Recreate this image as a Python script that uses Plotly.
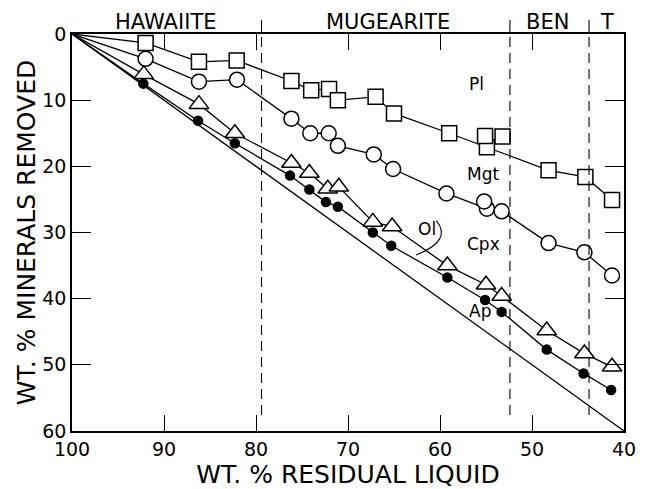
import plotly.graph_objects as go

# Data (x = wt.% residual liquid, y = wt.% minerals removed)
pl_x = [100, 92.0, 86.2, 82.1, 76.15, 74.0, 72.06, 71.1, 67.0, 65.0, 59.0, 54.9, 48.2, 44.2, 41.3]
pl_y = [0, 1.35, 4.2, 4.0, 7.1, 8.5, 8.3, 10.0, 9.5, 12.0, 15.0, 17.1, 20.6, 21.6, 25.1]
pl_extra_x = [55.1, 53.2]
pl_extra_y = [15.4, 15.5]

mgt_x = [100, 92.0, 86.2, 82.07, 76.15, 74.1, 72.1, 71.1, 67.2, 65.1, 59.3, 54.9, 53.3, 48.2, 44.3, 41.3]
mgt_y = [0, 3.75, 7.2, 6.9, 12.8, 15.0, 15.0, 16.9, 18.2, 20.4, 24.1, 26.4, 26.8, 31.6, 33.0, 36.5]
mgt_extra_x = [55.2]
mgt_extra_y = [25.3]

cpx_x = [100, 92.2, 86.2, 82.3, 76.15, 74.2, 72.2, 71.0, 67.3, 65.2, 59.2, 55.0, 53.3, 48.4, 44.3, 41.3]
cpx_y = [0, 6.1, 10.6, 15.0, 19.5, 21.0, 23.4, 23.1, 28.4, 29.1, 35.0, 37.9, 39.6, 44.8, 48.3, 50.3]

ol_x = [100, 92.25, 86.3, 82.3, 76.3, 74.2, 72.4, 71.1, 67.3, 65.3, 59.2, 55.1, 53.3, 48.4, 44.4, 41.4]
ol_y = [0, 7.5, 13.1, 16.5, 21.4, 23.5, 25.4, 26.1, 30.0, 32.0, 36.8, 40.2, 42.0, 47.7, 51.3, 53.8]

liquid_x = [100, 40]
total_y = [0, 60]

x_ticks = [100, 90, 80, 70, 60, 50, 40]
y_ticks = [0, 10, 20, 30, 40, 50, 60]
boundaries = [79.4, 52.4, 43.8]
rock_names = ["HAWAIITE", "MUGEARITE", "BEN", "T"]
rock_pos = [89.8, 65.7, 48.3, 41.8]
field_labels = ["Pl", "Mgt", "Cpx", "Ol", "Ap"]
field_x = [56.0, 55.3, 55.3, 61.4, 55.7]
field_y = [7.6, 21.1, 31.8, 29.4, 41.9]

FONT = "DejaVu Sans"
BLK = "black"
line_style = dict(color=BLK, width=1.3)

fig = go.Figure()

fig.add_trace(go.Scatter(x=liquid_x, y=total_y, mode="lines", line=line_style, hoverinfo="skip"))

def series(x, y, symbol, size, fill):
    fig.add_trace(go.Scatter(
        x=x[1:], y=y[1:], mode="markers",
        marker=dict(symbol=symbol, size=size, color=fill, line=dict(color=BLK, width=1.5)),
        hoverinfo="skip"))

for x, y in [(pl_x, pl_y), (mgt_x, mgt_y), (cpx_x, cpx_y), (ol_x, ol_y)]:
    fig.add_trace(go.Scatter(x=x, y=y, mode="lines", line=line_style, hoverinfo="skip"))

series(pl_x, pl_y, "square", 15, "white")
fig.add_trace(go.Scatter(x=pl_extra_x, y=pl_extra_y, mode="markers",
                         marker=dict(symbol="square", size=15, color="white", line=dict(color=BLK, width=1.5))))
series(mgt_x, mgt_y, "circle", 15, "white")
fig.add_trace(go.Scatter(x=mgt_extra_x, y=mgt_extra_y, mode="markers",
                         marker=dict(symbol="circle", size=15, color="white", line=dict(color=BLK, width=1.5))))
series(cpx_x, cpx_y, "triangle-up", 17, "white")
series(ol_x, ol_y, "circle", 9, BLK)

# rock-type boundaries
for b in boundaries:
    fig.add_shape(type="line", xref="x", yref="paper", x0=b, x1=b, y0=0.04, y1=1.0,
                  line=dict(color=BLK, width=1.1, dash="10px,6px"))
    fig.add_shape(type="line", xref="x", yref="paper", x0=b, x1=b, y0=1.0, y1=1.035,
                  line=dict(color=BLK, width=1.1))

for name, xp in zip(rock_names, rock_pos):
    fig.add_annotation(x=xp, y=1.03, xref="x", yref="paper", text=name, showarrow=False,
                       font=dict(family=FONT, size=21, color=BLK), yanchor="middle")

for name, xp, yp in zip(field_labels, field_x, field_y):
    fig.add_annotation(x=xp, y=yp, xref="x", yref="y", text=name, showarrow=False,
                       font=dict(family=FONT, size=17, color=BLK))

# arc pointer for Ol
fig.add_shape(type="path", xref="x", yref="y",
              path="M 60.4,28.2 Q 58.6,31.2 62.6,33.4",
              line=dict(color=BLK, width=1.1))

axis_common = dict(showgrid=False, zeroline=False, showline=True, linecolor=BLK, linewidth=1.5,
                   mirror="ticks", ticks="inside", tickcolor=BLK, tickwidth=1.3,
                   tickfont=dict(family=FONT, size=19, color=BLK))

fig.update_xaxes(range=[100, 40], tickvals=x_ticks, ticklen=16,
                 title=dict(text="WT. % RESIDUAL LIQUID", font=dict(family=FONT, size=25, color=BLK), standoff=0),
                 **axis_common)
fig.update_yaxes(range=[60, 0], tickvals=y_ticks, ticklen=19,
                 title=dict(text="WT. % MINERALS REMOVED", font=dict(family=FONT, size=25, color=BLK), standoff=0),
                 **axis_common)

fig.update_layout(width=653, height=489, showlegend=False,
                  margin=dict(l=72, r=29, t=34, b=55, pad=0),
                  plot_bgcolor="white", paper_bgcolor="white")

fig.write_html("out.html")
